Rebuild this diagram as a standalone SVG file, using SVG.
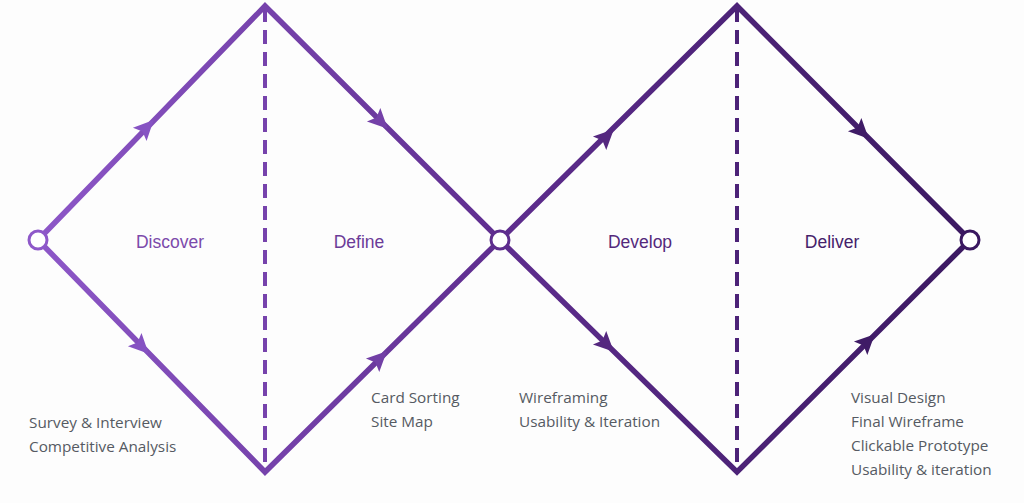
<svg xmlns="http://www.w3.org/2000/svg" width="1024" height="503" viewBox="0 0 1024 503">
<defs>
<linearGradient id="g" gradientUnits="userSpaceOnUse" x1="30" y1="0" x2="980" y2="0">
<stop offset="0" stop-color="#8e58c9"/>
<stop offset="0.5" stop-color="#5e2d8e"/>
<stop offset="1" stop-color="#3a1860"/>
</linearGradient>
<polygon id="ah" points="11,0 -9,-9.5 -5,0 -9,9.5"/>
<style>
.ln{fill:none;stroke:url(#g);stroke-width:5.5;stroke-linejoin:miter;stroke-linecap:butt}
.ds{fill:none;stroke:url(#g);stroke-width:4;stroke-dasharray:14 8}
.nd{fill:#ffffff;stroke-width:3}
.ph{font-family:"Liberation Sans",Arial,sans-serif;font-size:17.5px;text-anchor:middle}
.tx{font-family:"Open Sans","Noto Sans",sans-serif;font-size:15.3px;fill:#555a62}
</style>
</defs>
<rect width="1024" height="503" fill="#fdfdfd"/>
<g id="connectors">
<path class="ln" d="M38,240 L265,6 L500,240 L737,6 L970,240"/>
<path class="ln" d="M38,240 L265,472 L500,240 L737,472 L970,240"/>
<line class="ds" x1="265" y1="8" x2="265" y2="470"/>
<line class="ds" x1="737" y1="8" x2="737" y2="470"/>
<use href="#ah" fill="#8653c3" transform="translate(146,128) rotate(-45.9)"/>
<use href="#ah" fill="#8552c2" transform="translate(141,346) rotate(45.6)"/>
<use href="#ah" fill="#7441a8" transform="translate(380,121) rotate(44.9)"/>
<use href="#ah" fill="#7240a6" transform="translate(379,359) rotate(-44.6)"/>
<use href="#ah" fill="#55287f" transform="translate(606,137) rotate(-44.6)"/>
<use href="#ah" fill="#55287f" transform="translate(606,344) rotate(44.4)"/>
<use href="#ah" fill="#3f1b66" transform="translate(861,131) rotate(45.1)"/>
<use href="#ah" fill="#3f1b66" transform="translate(867,342) rotate(-44.9)"/>
</g>
<g id="node-start"><circle class="nd" cx="38" cy="240" r="9" stroke="#8e58c9"/></g>
<g id="node-mid"><circle class="nd" cx="500" cy="240" r="9" stroke="#5e2d8e"/></g>
<g id="node-end"><circle class="nd" cx="970" cy="240" r="9" stroke="#3a1860"/></g>
<g id="discover"><text class="ph" x="170" y="248" fill="#7c4aab">Discover</text></g>
<g id="define"><text class="ph" x="359" y="248" fill="#6b3b98">Define</text></g>
<g id="develop"><text class="ph" x="640" y="248" fill="#54297c">Develop</text></g>
<g id="deliver"><text class="ph" x="832" y="248" fill="#45216a">Deliver</text></g>
<g id="discover-notes"><text class="tx" x="29" y="428">Survey &amp; Interview</text><text class="tx" x="29" y="452">Competitive Analysis</text></g>
<g id="define-notes"><text class="tx" x="371" y="403">Card Sorting</text><text class="tx" x="371" y="427">Site Map</text></g>
<g id="develop-notes"><text class="tx" x="519" y="403">Wireframing</text><text class="tx" x="519" y="427">Usability &amp; Iteration</text></g>
<g id="deliver-notes"><text class="tx" x="851" y="403">Visual Design</text><text class="tx" x="851" y="427">Final Wireframe</text><text class="tx" x="851" y="451">Clickable Prototype</text><text class="tx" x="851" y="475">Usability &amp; iteration</text></g>
</svg>
